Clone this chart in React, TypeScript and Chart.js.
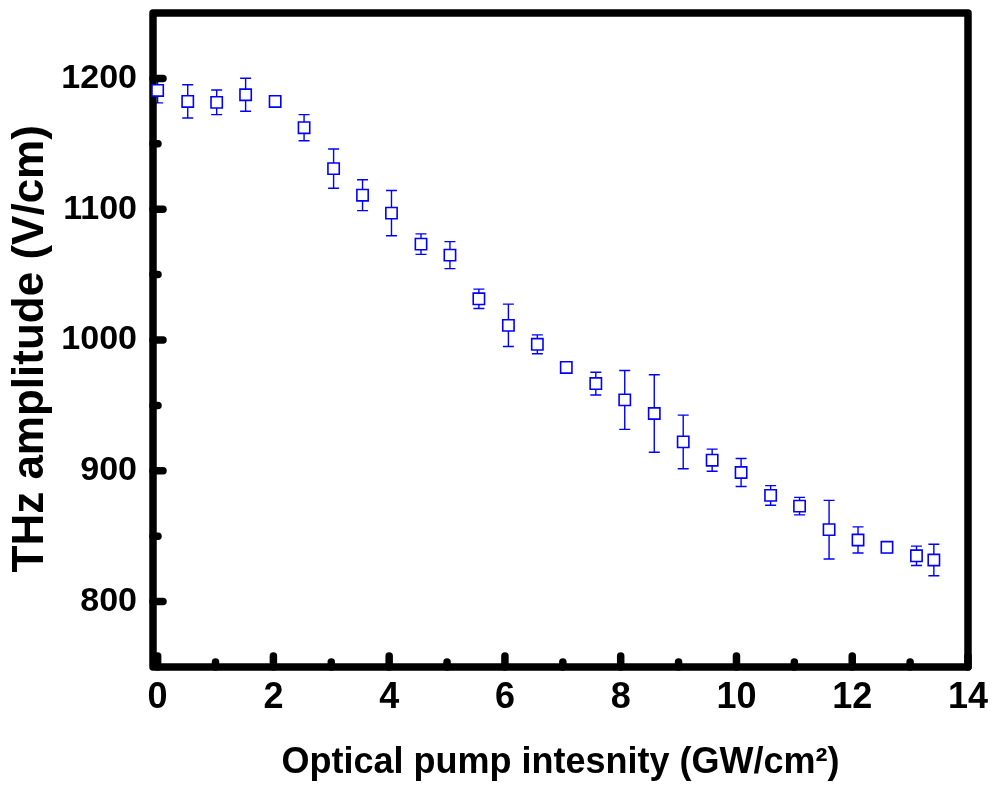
import React, { useEffect, useRef } from "react";
import { Chart, registerables } from "chart.js";

Chart.register(...registerables);

// Optical pump intensity (GW/cm^2)
const X_VALUES = [0, 0.52, 1.02, 1.52, 2.03, 2.53, 3.04, 3.54, 4.04, 4.55, 5.05, 5.55, 6.06, 6.56, 7.06, 7.57, 8.07, 8.58, 9.08, 9.58, 10.08, 10.59, 11.09, 11.6, 12.1, 12.6, 13.11, 13.41];
// THz amplitude (V/cm)
const Y_VALUES = [1190.8, 1182.4, 1181.7, 1187.5, 1182.4, 1162.3, 1131, 1110.7, 1097, 1073.3, 1064.9, 1031.5, 1011.2, 996.7, 979, 966.7, 954.2, 943.8, 922.1, 908.1, 898.7, 881.2, 873, 855, 847.1, 841.5, 835, 831.8];
// symmetric error (V/cm)
const Y_ERRORS = [9.5, 12.7, 9.4, 12.6, 4, 10, 15, 11.8, 17.3, 7.8, 10.3, 7.4, 16.2, 7.2, 4, 8.7, 22.5, 29.6, 20.5, 8.5, 10.7, 7.5, 6.7, 22.4, 10, 4, 7.4, 12];

const X_TICKS = [0, 2, 4, 6, 8, 10, 12, 14];
const X_MINOR = [1, 3, 5, 7, 9, 11, 13];
const Y_TICKS = [800, 900, 1000, 1100, 1200];
const Y_MINOR = [850, 950, 1050, 1150];

const X_TITLE = "Optical pump intesnity (GW/cm\u00B2)";
const Y_TITLE = "THz amplitude (V/cm)\u2009\u2009";

const BLUE = "#0000ff";
const FONT = "'Liberation Sans', Arial, Helvetica, sans-serif";

const framePlugin = {
  id: "frameAndErrors",
  beforeDatasetsDraw(chart: any) {
    const { ctx, chartArea, scales } = chart;
    const { left, right, top, bottom } = chartArea;
    const x = scales.x;
    const y = scales.y;
    ctx.save();
    // error bars
    ctx.strokeStyle = BLUE;
    ctx.lineWidth = 1.4;
    ctx.lineCap = "butt";
    X_VALUES.forEach((xv, i) => {
      const px = x.getPixelForValue(xv);
      const yt = y.getPixelForValue(Y_VALUES[i] + Y_ERRORS[i]);
      const yb = y.getPixelForValue(Y_VALUES[i] - Y_ERRORS[i]);
      ctx.beginPath();
      ctx.moveTo(px, yt);
      ctx.lineTo(px, yb);
      ctx.moveTo(px - 5.5, yt);
      ctx.lineTo(px + 5.5, yt);
      ctx.moveTo(px - 5.5, yb);
      ctx.lineTo(px + 5.5, yb);
      ctx.stroke();
    });
    // inward ticks
    ctx.strokeStyle = "#000";
    ctx.lineCap = "round";
    ctx.lineJoin = "round";
    ctx.lineWidth = 7.5;
    const seg = (x1: number, y1: number, x2: number, y2: number) => {
      ctx.beginPath();
      ctx.moveTo(x1, y1);
      ctx.lineTo(x2, y2);
      ctx.stroke();
    };
    Y_TICKS.forEach((v) => {
      const py = y.getPixelForValue(v);
      seg(left, py, left + 10, py);
    });
    Y_MINOR.forEach((v) => {
      const py = y.getPixelForValue(v);
      seg(left, py, left + 5, py);
    });
    X_TICKS.forEach((v) => {
      const px = x.getPixelForValue(v);
      seg(px, bottom, px, bottom - 11);
    });
    X_MINOR.forEach((v) => {
      const px = x.getPixelForValue(v);
      seg(px, bottom, px, bottom - 5);
    });
    // frame
    ctx.lineWidth = 7.5;
    ctx.strokeRect(left, top, right - left, bottom - top);
    ctx.restore();
  },
};

export default function App() {
  const canvasRef = useRef<HTMLCanvasElement | null>(null);

  useEffect(() => {
    document.body.style.margin = "0";
    const canvas = canvasRef.current;
    if (!canvas) return;
    const chart = new Chart(canvas, {
      type: "scatter",
      data: {
        datasets: [
          {
            data: X_VALUES.map((xv, i) => ({ x: xv, y: Y_VALUES[i] })),
            pointStyle: "rect",
            pointRadius: 8,
            pointBorderWidth: 1.6,
            pointBorderColor: BLUE,
            pointBackgroundColor: "#ffffff",
            showLine: false,
            clip: false as any,
          },
        ],
      },
      options: {
        animation: false,
        responsive: false,
        devicePixelRatio: 1,
        layout: { padding: { top: 13, right: 29, left: 0, bottom: 0 } },
        plugins: {
          legend: { display: false },
          tooltip: { enabled: false },
        },
        scales: {
          x: {
            type: "linear",
            min: -0.08,
            max: 14,
            grid: { display: false, drawTicks: false },
            border: { display: false },
            afterBuildTicks: (s: any) => {
              s.ticks = X_TICKS.map((v) => ({ value: v }));
            },
            afterFit: (s: any) => {
              s.height = 125;
              s.paddingLeft = 0;
              s.paddingRight = 0;
            },
            ticks: {
              color: "#000",
              padding: 9,
              maxRotation: 0,
              autoSkip: false,
              callback: (v: any) => String(v),
              font: { family: FONT, size: 36, weight: "bold" },
            },
            title: {
              display: true,
              text: X_TITLE,
              color: "#000",
              font: { family: FONT, size: 36, weight: "bold" },
              padding: { top: 0, bottom: 7 },
            },
          },
          y: {
            type: "linear",
            min: 750,
            max: 1250,
            grid: { display: false, drawTicks: false },
            border: { display: false },
            afterBuildTicks: (s: any) => {
              s.ticks = Y_TICKS.map((v) => ({ value: v }));
            },
            afterFit: (s: any) => {
              s.width = 153;
              s.paddingTop = 0;
              s.paddingBottom = 0;
            },
            ticks: {
              color: "#000",
              padding: 16,
              callback: (v: any) => String(v),
              font: { family: FONT, size: 34, weight: "bold" },
            },
            title: {
              display: true,
              text: Y_TITLE,
              color: "#000",
              font: { family: FONT, size: 44, weight: "bold" },
              padding: { top: 4, bottom: 0 },
            },
          },
        },
      },
      plugins: [framePlugin],
    } as any);
    return () => chart.destroy();
  }, []);

  return (
    <div style={{ width: 997, height: 792 }}>
      <canvas ref={canvasRef} width={997} height={792} style={{ display: "block" }} />
    </div>
  );
}
